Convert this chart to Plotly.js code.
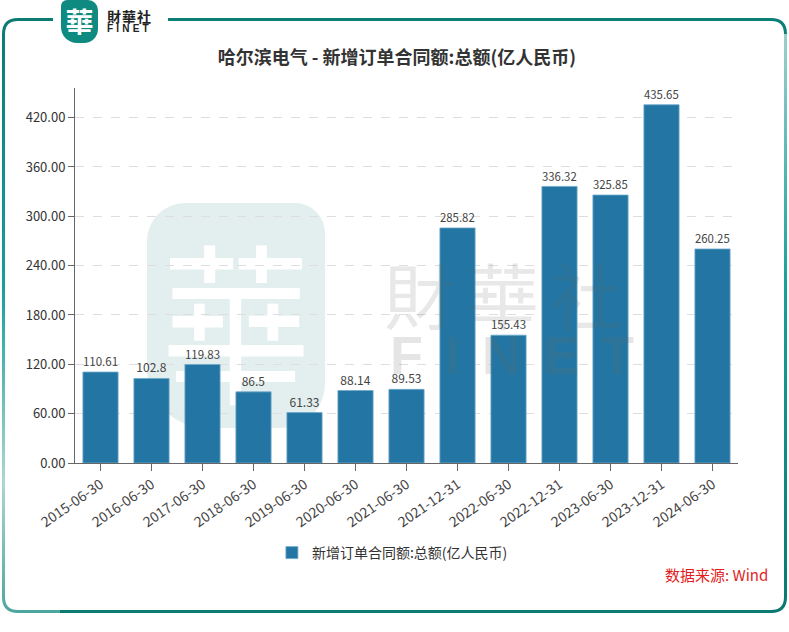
<!DOCTYPE html>
<html>
<head>
<meta charset="utf-8">
<script src="https://cdn.plot.ly/plotly-3.0.1.min.js"></script>
<style>
  html, body { margin:0; padding:0; background:#ffffff; }
  #wrap { position:relative; width:789px; height:632px; overflow:hidden; background:#fff; }
  #chart { position:absolute; left:0; top:0; width:789px; height:632px; }
  #frame { position:absolute; left:0; top:0; pointer-events:none; }
  #wmblob { position:absolute; left:147px; top:203px; width:178px; height:225px; background:#e2efee;
            border-radius:38px 30px 44px 60px; overflow:hidden; }
  #wmchar { position:absolute; left:147px; top:203px; width:178px; height:225px; color:#ffffff;
            font-family:"Noto Sans CJK TC", sans-serif; font-weight:400; font-size:150px; line-height:225px;
            text-align:center; transform:scaleY(1.15); transform-origin:center center; }
  #wmtext { position:absolute; left:384px; top:257px; font-family:"Noto Sans CJK TC", sans-serif;
            font-size:72px; line-height:72px; letter-spacing:11px; color:rgba(100,100,100,0.15); pointer-events:none; white-space:nowrap; }
  #wmfinet { position:absolute; left:390px; top:329px; font-family:"Liberation Sans", Arial, sans-serif; font-weight:700;
            font-size:54px; line-height:52px; letter-spacing:22px; color:rgba(100,100,100,0.17); pointer-events:none; white-space:nowrap; }
  #logo { position:absolute; left:61px; top:0px; width:37px; height:43px; background:#0f8a80;
          border-radius:6px 10px 14px 16px; color:#fff; font-family:"Noto Sans CJK TC", serif;
          font-weight:700; font-size:28px; line-height:42px; text-align:center; overflow:hidden; }
  #logotxt1 { position:absolute; left:107px; top:7px; font-family:"Noto Sans CJK TC","Noto Sans CJK SC",sans-serif;
          font-weight:700; font-size:14px; line-height:18px; color:#222; letter-spacing:1px; }
  #logotxt2 { position:absolute; left:107px; top:24px; font-family:"Liberation Sans",Arial,sans-serif;
          font-weight:700; font-size:10px; line-height:10px; color:#222; letter-spacing:3.2px; }
</style>
</head>
<body>
<div id="wrap">
  <div id="wmblob"></div>
  <div id="wmchar">華</div>
  <div id="chart"></div>
  <div id="wmtext">財華社</div>
  <div id="wmfinet">FINET</div>
  <svg id="frame" width="789" height="632" xmlns="http://www.w3.org/2000/svg">
    <defs>
      <linearGradient id="gl" x1="0" y1="19" x2="0" y2="612" gradientUnits="userSpaceOnUse">
        <stop offset="0" stop-color="#0b7b73"/>
        <stop offset="0.45" stop-color="#15a098"/>
        <stop offset="0.78" stop-color="#acd6d3"/>
        <stop offset="1" stop-color="#4ea6a0"/>
      </linearGradient>
      <linearGradient id="gr" x1="0" y1="19" x2="0" y2="612" gradientUnits="userSpaceOnUse">
        <stop offset="0" stop-color="#a3d2cf"/>
        <stop offset="0.45" stop-color="#17a098"/>
        <stop offset="1" stop-color="#0a7870"/>
      </linearGradient>
    </defs>
    <path d="M3.5,34 Q3.5,19.5 18,19.5 L53,19.5" fill="none" stroke="url(#gl)" stroke-width="3"/>
    <path d="M168,19.5 L771,19.5 Q785.5,19.5 785.5,34" fill="none" stroke="#0c7f77" stroke-width="3"/>
    <path d="M3.5,34 L3.5,597 Q3.5,611.5 18,611.5 L60,611.5" fill="none" stroke="url(#gl)" stroke-width="3"/>
    <path d="M60,611.5 L771,611.5" fill="none" stroke="#0c7b74" stroke-width="3"/>
    <path d="M785.5,34 L785.5,597 Q785.5,611.5 771,611.5" fill="none" stroke="url(#gr)" stroke-width="3"/>
  </svg>
  <div id="logo">華</div>
  <div id="logotxt1">財華社</div>
  <div id="logotxt2">FINET</div>
</div>
<script>
const categories = ['2015-06-30','2016-06-30','2017-06-30','2018-06-30','2019-06-30','2020-06-30','2021-06-30','2021-12-31','2022-06-30','2022-12-31','2023-06-30','2023-12-31','2024-06-30'];
const values = [110.61, 102.8, 119.83, 86.5, 61.33, 88.14, 89.53, 285.82, 155.43, 336.32, 325.85, 435.65, 260.25];
const seriesName = '新增订单合同额:总额(亿人民币)';
const chartTitle = '哈尔滨电气 - 新增订单合同额:总额(亿人民币)';
const sourceText = '数据来源: Wind';
const yTicks = [0, 60, 120, 180, 240, 300, 360, 420];

const FONT = '"Noto Sans CJK SC", "Microsoft YaHei", sans-serif';

const trace = {
  type: 'bar',
  x: categories,
  y: values,
  name: seriesName,
  marker: { color: '#2376a3', line: { color: '#6fa9cb', width: 0.8 } },
  text: values.map(v => String(v)),
  textposition: 'outside',
  texttemplate: '%{text}',
  textfont: { family: FONT, size: 12, color: '#444' },
  cliponaxis: false,
  hoverinfo: 'x+y'
};

const layout = {
  width: 789, height: 632,
  margin: { l: 75, r: 51, t: 88, b: 169 },
  paper_bgcolor: 'rgba(0,0,0,0)',
  plot_bgcolor: 'rgba(0,0,0,0)',
  font: { family: FONT, color: '#333' },
  title: {
    text: chartTitle,
    x: 0.503, xref: 'container', xanchor: 'center',
    y: 0.909, yref: 'container', yanchor: 'middle',
    font: { family: FONT, size: 18, color: '#333', weight: 'bold' }
  },
  bargap: 0.31,
  showlegend: true,
  legend: {
    orientation: 'h', x: 0.297, xanchor: 'left', y: -0.24, yanchor: 'middle',
    font: { family: FONT, size: 14, color: '#333' },
    bgcolor: 'rgba(0,0,0,0)'
  },
  xaxis: {
    type: 'category',
    showline: true, linecolor: '#666', linewidth: 1,
    ticks: 'outside', ticklen: 7, tickcolor: '#666',
    tickangle: -35,
    tickfont: { family: FONT, size: 14, color: '#444' },
    showgrid: false, zeroline: false, fixedrange: true
  },
  yaxis: {
    range: [0, 456],
    tickvals: yTicks,
    ticktext: yTicks.map(v => v.toFixed(2)),
    showline: true, linecolor: '#666', linewidth: 1,
    ticks: 'outside', ticklen: 6, tickcolor: '#666',
    tickfont: { family: FONT, size: 13, color: '#333' },
    showgrid: true, gridcolor: '#dedede', griddash: 'dash', gridwidth: 1,
    zeroline: false, fixedrange: true
  },
  annotations: [
    { text: sourceText, xref: 'paper', yref: 'paper', x: 1.048, xanchor: 'right', y: -0.297, yanchor: 'middle', showarrow: false,
      font: { family: FONT, size: 15, color: '#e31d1d' } }
  ]
};

Plotly.newPlot('chart', [trace], layout, { displayModeBar: false, staticPlot: true });
</script>
</body>
</html>
